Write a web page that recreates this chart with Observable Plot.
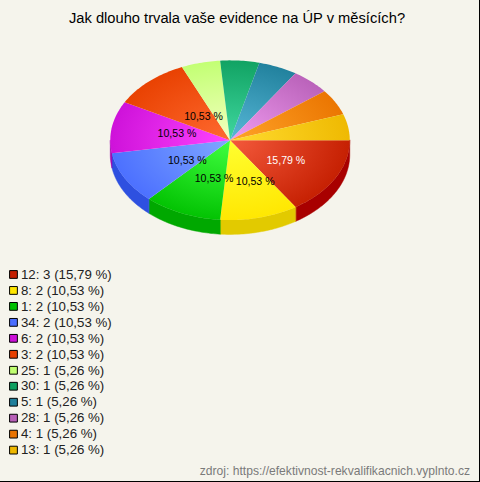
<!DOCTYPE html>
<html><head><meta charset="utf-8">
<script src="https://cdn.jsdelivr.net/npm/d3@7"></script>
<script src="https://cdn.jsdelivr.net/npm/@observablehq/plot@0.6"></script>
<style>
html,body{margin:0;padding:0;background:#f5f4ec}
#c{position:relative;width:480px;height:482px;box-sizing:border-box;border-right:1px solid #000;border-bottom:1px solid #000;background:#f5f4ec;overflow:hidden;font-family:"Liberation Sans",Arial,sans-serif}
#t{position:absolute;left:0;top:10px;width:474px;text-align:center;font-size:14.7px;line-height:16px;color:#000;white-space:nowrap}
#s{position:absolute;right:9px;bottom:3px;font-size:12.1px;line-height:14px;color:#7a7a7a;white-space:nowrap}
#p,#l{position:absolute;left:0}
#p{top:0}#l{top:262px}
svg{display:block;background:transparent!important}
</style></head><body>
<div id="c"><div id="t">Jak dlouho trvala vaše evidence na ÚP v měsících?</div><div id="p"></div><div id="l"></div><div id="s">zdroj: https://efektivnost-rekvalifikacnich.vyplnto.cz</div></div>
<script>
const categories=["12","8","1","34","6","3","25","30","5","28","4","13"];
const counts=[3,2,2,2,2,2,1,1,1,1,1,1];
const percents=["15,79","10,53","10,53","10,53","10,53","10,53","5,26","5,26","5,26","5,26","5,26","5,26"];
const baseColors=["#c41e00","#ffe600","#00c000","#4a6eff","#cc10d8","#e84000","#c0ff70","#0fa060","#1f7f9b","#b860b8","#ea7400","#eeb800"];
const lightColors=["#f45a3c","#ffff30","#40ff40","#80a8ff","#ff44ff","#ff6a30","#f4ffc0","#40d8a0","#58b8d8","#f09cf0","#ffa428","#ffdc30"];
const wallColors=["#a80000","#e2ca00","#00a800","#2e50e0","#a000b0","#c03000","#a0e060","#008040","#106080","#904090","#c06000","#c09000"];

const total=d3.sum(counts);
let acc=0;
const slices=counts.map((v,i)=>{const a0=acc/total*2*Math.PI;acc+=v;return{i,a0,a1:acc/total*2*Math.PI};});
const arc=(a0,a1)=>{const n=Math.max(2,Math.ceil((a1-a0)/0.02));return d3.range(n+1).map(k=>a0+(a1-a0)*k/n);};
const topPts=s=>[{x:0,y:0},...arc(s.a0,s.a1).map(a=>({x:Math.cos(a),y:Math.sin(a)})),{x:0,y:0}];
const depth=0.18;
const wallPts=s=>{const a1=Math.min(s.a1,Math.PI);if(s.a0>=a1)return null;const A=arc(s.a0,a1);
  return [...A.map(a=>({x:Math.cos(a),y:Math.sin(a)})),...A.reverse().map(a=>({x:Math.cos(a),y:Math.sin(a)+depth}))];};
const defs=()=>{const ns="http://www.w3.org/2000/svg";const d=document.createElementNS(ns,"defs");
  d.innerHTML=slices.map(s=>`<radialGradient id="g${s.i}" gradientUnits="userSpaceOnUse" cx="0" cy="0" r="1" gradientTransform="translate(230 140) scale(125 84)"><stop offset="0" stop-color="${lightColors[s.i]}"/><stop offset="1" stop-color="${baseColors[s.i]}"/></radialGradient>`).join("");return d;};
const labelR=i=>i===5?0.4:0.53;
const labelShift=i=>[0,.08,.08,.11,.08,.05][i];
const labels=slices.slice(0,6).map(s=>{const a=(s.a0+s.a1)/2;return{x:labelR(s.i)*Math.cos(a)+labelShift(s.i),y:labelR(s.i)*Math.sin(a),t:percents[s.i]+" %",i:s.i};});
const pie=Plot.plot({width:480,height:262,margin:0,
  x:{domain:[-1,1],range:[110,350],axis:null},
  y:{domain:[-1,1],range:[60,220],axis:null},
  style:{background:"transparent"},
  marks:[defs,
    ...slices.filter(wallPts).map(s=>Plot.line(wallPts(s),{x:"x",y:"y",fill:wallColors[s.i],stroke:wallColors[s.i],strokeWidth:0.5,curve:"linear-closed"})),
    ...slices.map(s=>Plot.line(topPts(s),{x:"x",y:"y",fill:`url(#g${s.i})`,stroke:"none",curve:"linear"})),
    Plot.text(labels.slice(0,1),{x:"x",y:"y",text:"t",fill:"#fff",fontSize:10.6,fontFamily:"Liberation Sans"}),
    Plot.text(labels.slice(1),{x:"x",y:"y",text:"t",fill:"#000",fontSize:10.6,fontFamily:"Liberation Sans"})
  ]});
document.getElementById("p").append(pie);
const rows=categories.map((c,i)=>({c,lab:`${c}: ${counts[i]} (${percents[i]} %)`}));
const legend=Plot.plot({width:480,height:200,margin:0,
  y:{type:"point",domain:categories,range:[12,188],padding:0,axis:null},
  color:{type:"ordinal",domain:categories,range:baseColors},
  style:{background:"transparent"},
  marks:[
    Plot.dot(rows,{y:"c",frameAnchor:"left",dx:13,symbol:"square",r:4.4,fill:"c",stroke:"#000",strokeWidth:1,strokeLinejoin:"miter"}),
    Plot.text(rows,{y:"c",frameAnchor:"left",dx:20.5,text:"lab",textAnchor:"start",fill:"#222",fontSize:13.3,fontFamily:"Liberation Sans"})
  ]});
document.getElementById("l").append(legend);
</script></body></html>
